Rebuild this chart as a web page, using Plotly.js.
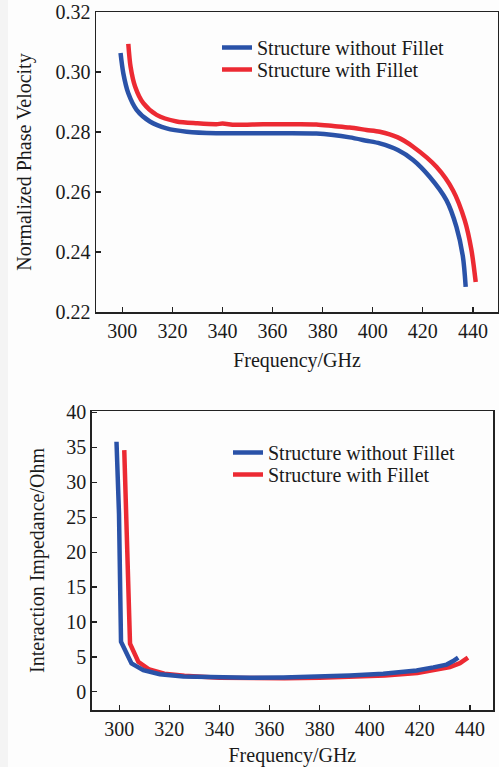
<!DOCTYPE html>
<html>
<head>
<meta charset="utf-8">
<script src="https://cdn.plot.ly/plotly-3.0.1.min.js"></script>
<style>html,body{margin:0;padding:0;background:#fff;}#chart{width:499px;height:767px;}</style>
</head>
<body>
<div id="chart"></div>
<script>
// ---- Data ----
var seriesNames = ["Structure without Fillet", "Structure with Fillet"];

// Top: Normalized phase velocity
var freqVpNoFillet = [299.3, 300.4, 302.4, 305.7, 311.0, 317.7, 325.7, 337.6, 350, 365, 377.5, 384.2, 390.8, 397.5, 402.8, 410, 416.1, 422.7, 429.4, 433.4, 436.0, 437.1];
var vpNoFillet     = [0.3063, 0.2996, 0.2929, 0.2874, 0.2835, 0.2812, 0.2801, 0.2796, 0.2796, 0.2796, 0.2795, 0.2790, 0.2782, 0.2771, 0.2762, 0.2740, 0.2707, 0.2651, 0.2573, 0.2484, 0.2384, 0.2284];
var freqVpFillet   = [302.4, 303.3, 305.1, 308.4, 313.7, 321.7, 330, 337.6, 340, 345, 352, 360, 370, 377.5, 384.2, 390.8, 397.5, 402.8, 410, 416.1, 425.4, 432, 436.7, 439.4, 441.1];
var vpFillet       = [0.3094, 0.3018, 0.2952, 0.2896, 0.2857, 0.2835, 0.2829, 0.2826, 0.2828, 0.2824, 0.2825, 0.2826, 0.2826, 0.2825, 0.2820, 0.2815, 0.2807, 0.2801, 0.2782, 0.2751, 0.2684, 0.2606, 0.2506, 0.2406, 0.2300];

// Bottom: Interaction impedance
var freqZNoFillet = [298.9, 299.9, 300.7, 304.9, 309.6, 316.2, 325.6, 338.9, 352.2, 365.5, 378.8, 392.1, 405.4, 418.7, 425.4, 430.7, 433.3, 435.3];
var zNoFillet     = [35.8, 25.5, 7.16, 4.06, 3.1, 2.53, 2.2, 2.05, 2.0, 2.05, 2.15, 2.35, 2.6, 3.05, 3.5, 3.9, 4.4, 4.9];
var freqZFillet   = [302.0, 304.3, 307.6, 312, 318, 326, 340, 352, 366, 380, 393, 406, 419, 425.4, 432, 436, 439.2];
var zFillet       = [34.6, 6.9, 4.3, 3.2, 2.6, 2.3, 2.0, 1.95, 1.95, 2.0, 2.15, 2.35, 2.7, 3.05, 3.55, 4.1, 4.9];

var xTickVals = [300, 320, 340, 360, 380, 400, 420, 440];

// ---- Styles ----
var BLUE = "#2a52a8", RED = "#ec2a33";
var FONT = {family: "Liberation Serif, Times New Roman, serif", size: 20, color: "#1a1a1a"};
var LW = 4.5;

var W = 499, H = 767;
var M = {l: 0, r: 0, t: 0, b: 24};
function px2x(px) { return (px - M.l) / (W - M.l - M.r); }
function px2y(py) { return (H - M.b - py) / (H - M.t - M.b); }

var traces = [
  {x: freqVpNoFillet, y: vpNoFillet, name: seriesNames[0], type: "scatter", mode: "lines",
   line: {color: BLUE, width: LW, shape: "spline", smoothing: 0.8}, xaxis: "x", yaxis: "y", legend: "legend"},
  {x: freqVpFillet, y: vpFillet, name: seriesNames[1], type: "scatter", mode: "lines",
   line: {color: RED, width: LW, shape: "spline", smoothing: 0.8}, xaxis: "x", yaxis: "y", legend: "legend2"},
  {x: freqZFillet, y: zFillet, name: seriesNames[1], type: "scatter", mode: "lines",
   line: {color: RED, width: LW}, xaxis: "x2", yaxis: "y2", legend: "legend4"},
  {x: freqZNoFillet, y: zNoFillet, name: seriesNames[0], type: "scatter", mode: "lines",
   line: {color: BLUE, width: LW}, xaxis: "x2", yaxis: "y2", legend: "legend3"}
];

function xAxis(domain, range, anchor, standoff) {
  return {domain: domain, range: range, anchor: anchor, tickvals: xTickVals,
    ticks: "inside", ticklen: 5, tickwidth: 1.2, tickcolor: "#222",
    showline: true, linecolor: "#222", linewidth: 1.5, mirror: true,
    showgrid: false, zeroline: false, tickfont: FONT, automargin: false,
    title: {text: "Frequency/GHz", font: FONT, standoff: standoff}};
}
function yAxis(domain, range, anchor, dtick, fmt, title, standoff) {
  return {domain: domain, range: range, anchor: anchor, dtick: dtick, tick0: 0, tickformat: fmt,
    ticks: "inside", ticklen: 5, tickwidth: 1.2, tickcolor: "#222",
    showline: true, linecolor: "#222", linewidth: 1.5, mirror: true,
    showgrid: false, zeroline: false, tickfont: FONT, automargin: false,
    title: {text: title, font: FONT, standoff: standoff}};
}
function legendAt(xpx, ytoppx) {
  return {x: px2x(xpx), y: px2y(ytoppx), xanchor: "left", yanchor: "top",
    bgcolor: "rgba(0,0,0,0)", font: FONT, borderwidth: 0};
}

var layout = {
  width: W, height: H,
  margin: M,
  paper_bgcolor: "#fdfdfd", plot_bgcolor: "#fdfdfd",
  font: FONT,
  showlegend: true,
  xaxis: xAxis([px2x(96), px2x(498)], [289.5, 450], "y", 12),
  yaxis: yAxis([px2y(312), px2y(12)], [0.22, 0.32], "x", 0.02, ".2f", "Normalized Phase Velocity", 18),
  xaxis2: xAxis([px2x(91.7), px2x(493)], [289, 449.2], "y2", 14),
  yaxis2: yAxis([px2y(710), px2y(411)], [-2.6, 40.2], "x2", 5, "d", "Interaction Impedance/Ohm", 16),
  legend: legendAt(217, 28),
  legend2: legendAt(217, 50),
  legend3: legendAt(228, 433),
  legend4: legendAt(228, 455),
  shapes: [
    {type: "rect", xref: "paper", yref: "paper", x0: px2x(0), x1: px2x(8), y0: px2y(H), y1: px2y(0),
     fillcolor: "#f4f4f4", line: {width: 0}, layer: "below"}
  ]
};

Plotly.newPlot("chart", traces, layout, {staticPlot: true, displayModeBar: false});
</script>
</body>
</html>
